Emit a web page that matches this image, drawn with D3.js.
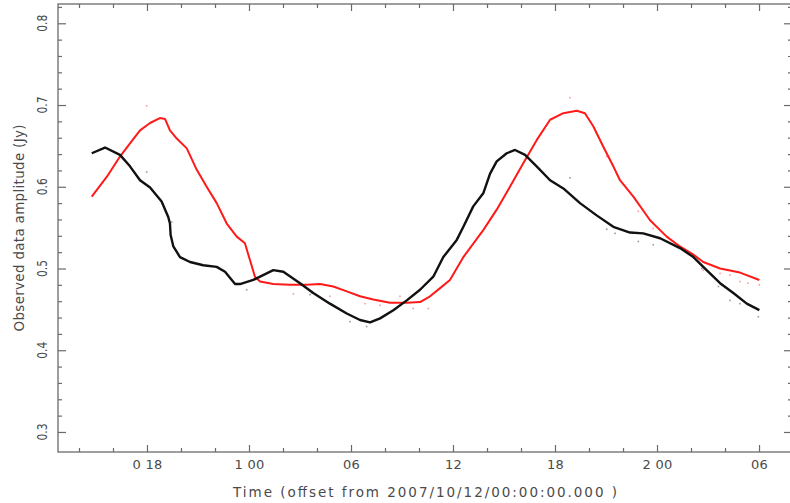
<!DOCTYPE html>
<html>
<head>
<meta charset="utf-8">
<script src="https://cdn.jsdelivr.net/npm/d3@7"></script>
<style>
  html, body { margin: 0; padding: 0; background: #fff; }
  svg { display: block; }
  text { font-family: "DejaVu Sans", sans-serif; fill: #4a4a4a; }
</style>
</head>
<body>
<svg id="chart" width="790" height="503"></svg>
<script>
// ---- data (time in hours from 2007/10/12 00:00, amplitude in Jy) ----
const blackTimes = [14.75, 15.53, 16.41, 17.0, 17.59, 18.18, 18.86, 19.25, 19.35, 19.39, 19.55, 19.94, 20.53, 21.31, 22.10, 22.59, 23.18, 23.47, 24.25, 24.65, 25.43, 26.02, 27.0, 27.78, 28.76, 29.75, 30.53, 31.12, 31.71, 32.49, 33.28, 34.06, 34.84, 35.43, 36.22, 36.61, 37.19, 37.78, 38.18, 38.57, 39.16, 39.65, 40.24, 40.92, 41.71, 42.49, 43.47, 44.45, 45.43, 46.41, 47.19, 48.18, 49.35, 50.14, 50.72, 51.71, 52.49, 53.28, 54.02];
const blackValues = [0.641, 0.648, 0.639, 0.625, 0.608, 0.599, 0.582, 0.563, 0.555, 0.541, 0.527, 0.514, 0.508, 0.504, 0.502, 0.496, 0.481, 0.481, 0.486, 0.490, 0.498, 0.496, 0.482, 0.470, 0.457, 0.445, 0.437, 0.434, 0.439, 0.449, 0.461, 0.474, 0.490, 0.514, 0.535, 0.551, 0.576, 0.592, 0.616, 0.631, 0.641, 0.645, 0.639, 0.625, 0.608, 0.598, 0.580, 0.565, 0.551, 0.544, 0.543, 0.537, 0.525, 0.514, 0.502, 0.482, 0.470, 0.457, 0.449];

const redTimes = [14.75, 15.63, 16.41, 17.0, 17.59, 18.18, 18.76, 19.06, 19.35, 19.75, 20.34, 20.92, 21.51, 22.10, 22.69, 23.28, 23.76, 24.06, 24.35, 24.65, 25.43, 26.41, 27.39, 28.18, 28.96, 29.75, 30.53, 31.31, 32.29, 33.28, 34.06, 34.65, 35.24, 35.82, 36.61, 37.78, 38.57, 39.35, 40.14, 40.92, 41.71, 42.49, 43.28, 43.76, 44.25, 44.84, 45.43, 45.82, 46.61, 47.59, 48.57, 49.35, 50.14, 50.72, 51.71, 52.88, 54.02];
const redValues = [0.588, 0.612, 0.637, 0.653, 0.669, 0.678, 0.684, 0.683, 0.669, 0.659, 0.647, 0.621, 0.600, 0.580, 0.555, 0.539, 0.531, 0.510, 0.490, 0.484, 0.481, 0.480, 0.480, 0.481, 0.478, 0.472, 0.466, 0.462, 0.458, 0.458, 0.459, 0.466, 0.476, 0.486, 0.514, 0.547, 0.572, 0.600, 0.629, 0.657, 0.682, 0.690, 0.693, 0.690, 0.674, 0.649, 0.625, 0.608, 0.588, 0.559, 0.539, 0.527, 0.517, 0.508, 0.500, 0.495, 0.486];

const blackOutlierTimes = [17.98, 19.45, 23.86, 27.59, 29.94, 30.92, 42.88, 45.04, 45.53, 46.90, 47.78, 50.63, 51.61, 52.29, 52.88, 53.96];
const blackOutlierValues = [0.618, 0.557, 0.474, 0.468, 0.435, 0.429, 0.611, 0.548, 0.543, 0.533, 0.529, 0.500, 0.478, 0.461, 0.457, 0.441];
const redOutlierTimes = [17.98, 42.88, 26.61, 27.69, 28.76, 30.82, 31.71, 32.88, 33.66, 34.55, 45.04, 45.63, 46.90, 47.78, 50.72, 51.71, 52.29, 52.88, 53.34, 54.02];
const redOutlierValues = [0.699, 0.709, 0.469, 0.470, 0.466, 0.457, 0.455, 0.466, 0.451, 0.451, 0.637, 0.616, 0.570, 0.549, 0.498, 0.494, 0.492, 0.484, 0.482, 0.480];

const xMajorTicks = [18, 24, 30, 36, 42, 48, 54];
const xTickLabels = ["0 18", "1 00", "06", "12", "18", "2 00", "06"];
const xMinorTicks = [14, 16, 20, 22, 26, 28, 32, 34, 38, 40, 44, 46, 50, 52];
const yMajorTicks = [0.3, 0.4, 0.5, 0.6, 0.7, 0.8];
const yTickLabels = ["0.3", "0.4", "0.5", "0.6", "0.7", "0.8"];
const yMinorTicks = [0.32, 0.34, 0.36, 0.38, 0.42, 0.44, 0.46, 0.48, 0.52, 0.54, 0.56, 0.58, 0.62, 0.64, 0.66, 0.68, 0.72, 0.74, 0.76, 0.78, 0.82];

const xTitle = "Time (offset from  2007/10/12/00:00:00.000 )";
const yTitle = "Observed data amplitude (Jy)";

(function () {
// ---- layout ----
const pL = 58, pR = 792, pT = 4, pB = 452;
const svg = d3.select("#chart");
const x = d3.scaleLinear().domain([12.765, 55.94]).range([pL, pR]);
const y = d3.scaleLinear().domain([0.2755, 0.8236]).range([pB, pT]);

const axisColor = "#6a6a6a";

// frame
svg.append("rect")
  .attr("x", pL).attr("y", pT)
  .attr("width", pR - pL).attr("height", pB - pT)
  .attr("fill", "none").attr("stroke", axisColor).attr("stroke-width", 1.3);

function styleAxis(g) {
  g.select(".domain").remove();
  g.selectAll("line").attr("stroke", axisColor).attr("stroke-width", 1.2);
}

// bottom axis (ticks pointing up)
svg.append("g").attr("transform", `translate(0,${pB})`)
  .call(d3.axisTop(x).tickValues(xMajorTicks).tickSize(7).tickFormat(""))
  .call(styleAxis);
svg.append("g").attr("transform", `translate(0,${pB})`)
  .call(d3.axisTop(x).tickValues(xMinorTicks).tickSize(4).tickFormat(""))
  .call(styleAxis);
// bottom labels
svg.append("g").attr("transform", `translate(0,${pB})`)
  .call(d3.axisBottom(x).tickValues(xMajorTicks).tickSize(0).tickPadding(0)
        .tickFormat((d, i) => xTickLabels[i]))
  .call(g => {
    g.select(".domain").remove();
    g.selectAll("text").attr("y", 17).attr("dy", 0)
      .attr("font-size", 13).attr("fill", "#4a4a4a")
      .style("font-family", "DejaVu Sans, sans-serif")
      .attr("letter-spacing", 0.3);
  });
// top axis (ticks pointing down)
svg.append("g").attr("transform", `translate(0,${pT})`)
  .call(d3.axisBottom(x).tickValues(xMajorTicks).tickSize(7).tickFormat(""))
  .call(styleAxis);
svg.append("g").attr("transform", `translate(0,${pT})`)
  .call(d3.axisBottom(x).tickValues(xMinorTicks).tickSize(4).tickFormat(""))
  .call(styleAxis);

// left axis (ticks pointing right)
svg.append("g").attr("transform", `translate(${pL},0)`)
  .call(d3.axisRight(y).tickValues(yMajorTicks).tickSize(8).tickFormat(""))
  .call(styleAxis);
svg.append("g").attr("transform", `translate(${pL},0)`)
  .call(d3.axisRight(y).tickValues(yMinorTicks).tickSize(4).tickFormat(""))
  .call(styleAxis);
// right axis (ticks pointing left)
svg.append("g").attr("transform", `translate(${pR},0)`)
  .call(d3.axisLeft(y).tickValues(yMajorTicks).tickSize(8).tickFormat(""))
  .call(styleAxis);
svg.append("g").attr("transform", `translate(${pR},0)`)
  .call(d3.axisLeft(y).tickValues(yMinorTicks).tickSize(4).tickFormat(""))
  .call(styleAxis);

// rotated y tick labels
svg.append("g").selectAll("text")
  .data(yMajorTicks)
  .join("text")
  .attr("transform", d => `translate(46.5,${y(d)}) rotate(-90)`)
  .attr("text-anchor", "middle")
  .attr("font-size", 13.5)
  .attr("textLength", 17)
  .attr("lengthAdjust", "spacingAndGlyphs")
  .text((d, i) => yTickLabels[i]);

// axis titles
svg.append("text")
  .attr("x", (pL + pR) / 2).attr("y", 496.5)
  .attr("text-anchor", "middle")
  .attr("font-size", 13.5)
  .attr("textLength", 384)
  .attr("lengthAdjust", "spacing")
  .text(xTitle);

svg.append("text")
  .attr("transform", `translate(23.5,${(pT + pB) / 2}) rotate(-90)`)
  .attr("text-anchor", "middle")
  .attr("font-size", 13.5)
  .attr("textLength", 207)
  .attr("lengthAdjust", "spacing")
  .text(yTitle);

// outlier dots
const blackOut = blackOutlierTimes.map((t, i) => [t, blackOutlierValues[i]]);
const redOut = redOutlierTimes.map((t, i) => [t, redOutlierValues[i]]);
svg.append("g").selectAll("rect").data(blackOut).join("rect")
  .attr("x", d => x(d[0]) - 0.8).attr("y", d => y(d[1]) - 0.8)
  .attr("width", 1.6).attr("height", 1.6).attr("fill", "#9a9a9a");
svg.append("g").selectAll("rect").data(redOut).join("rect")
  .attr("x", d => x(d[0]) - 0.8).attr("y", d => y(d[1]) - 0.8)
  .attr("width", 1.6).attr("height", 1.6).attr("fill", "#ff9a9a");

// series
const line = d3.line().x(d => x(d[0])).y(d => y(d[1])).curve(d3.curveLinear);
const redData = redTimes.map((t, i) => [t, redValues[i]]);
const blackData = blackTimes.map((t, i) => [t, blackValues[i]]);

svg.append("path").datum(redData)
  .attr("d", line).attr("fill", "none")
  .attr("stroke", "#ff1a1a").attr("stroke-width", 2)
  .attr("stroke-linejoin", "round");
svg.append("path").datum(blackData)
  .attr("d", line).attr("fill", "none")
  .attr("stroke", "#111").attr("stroke-width", 2.4)
  .attr("stroke-linejoin", "round");
})();
</script>
</body>
</html>
